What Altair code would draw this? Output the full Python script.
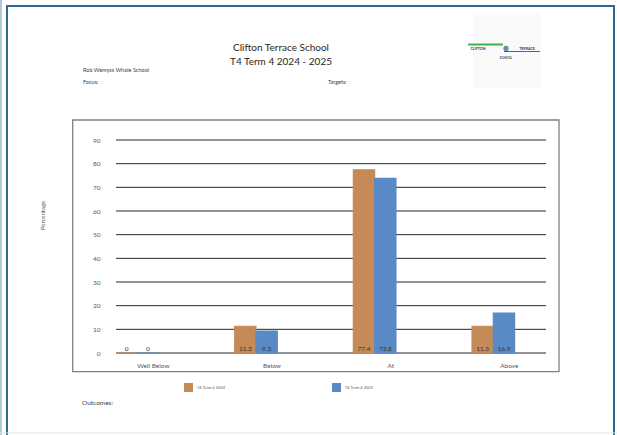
import altair as alt
import pandas as pd

categories = ["Well Below", "Below", "At", "Above"]
series = ["T4 Term 4 2024", "T4 Term 4 2025"]
values_2024 = [0, 11.3, 77.4, 11.3]
values_2025 = [0, 9.3, 73.8, 16.9]
colors = ["#c68a58", "#5a8ac6"]
y_ticks = [0, 10, 20, 30, 40, 50, 60, 70, 80, 90]

rows = []
for c, a, b in zip(categories, values_2024, values_2025):
    rows.append({"category": c, "series": series[0], "value": a})
    rows.append({"category": c, "series": series[1], "value": b})
df = pd.DataFrame(rows)
grid_df = pd.DataFrame({"tick": y_ticks})

W, H = 430, 213
FONT = "Lato"
GREY = "#595959"

y_scale = alt.Scale(domain=[0, 90], nice=False)
y_axis = alt.Axis(title="Percentage", values=y_ticks, ticks=False, domain=False,
                  labelFontSize=6.5, labelColor=GREY, labelPadding=16,
                  labelOverlap=False, grid=False,
                  titleFontSize=6, titleFontWeight="normal", titleColor=GREY,
                  titleX=-74, titleY=75, titleAngle=270,
                  titleAlign="center", titleBaseline="middle")

x_enc = alt.X("category:N", sort=categories,
              scale=alt.Scale(range=[0, 474.7], paddingInner=0, paddingOuter=0),
              axis=alt.Axis(title=None, ticks=False, domain=False, labelAngle=0,
                            labelFontSize=6.5, labelColor=GREY, labelPadding=9,
                            labelOffset=-22, grid=False))
xo_enc = alt.XOffset("series:N", sort=series,
                     scale=alt.Scale(range=[0, 42.6], paddingInner=0, paddingOuter=0))
color_enc = alt.Color("series:N", sort=series,
                      scale=alt.Scale(domain=series, range=colors),
                      legend=alt.Legend(title=None, orient="none", legendX=68, legendY=243,
                                        direction="horizontal", symbolType="square",
                                        symbolSize=81, symbolStrokeWidth=0,
                                        labelFontSize=4, labelColor=GREY,
                                        columnPadding=106, padding=0, labelOffset=4))

gridlines = alt.Chart(grid_df).mark_rule(color="#262626", strokeWidth=1).encode(
    y=alt.Y("tick:Q", scale=y_scale, axis=y_axis),
    x=alt.value(0), x2=alt.value(W),
)

bars = alt.Chart(df).mark_bar(strokeWidth=1.2).encode(
    x=x_enc,
    xOffset=xo_enc,
    y=alt.Y("value:Q", scale=y_scale, axis=y_axis),
    color=color_enc,
    stroke=alt.Stroke("series:N", sort=series,
                      scale=alt.Scale(domain=series, range=colors), legend=None),
)

labels = alt.Chart(df).mark_text(fontSize=6.5, color="#333333", baseline="middle",
                                 align="center", font=FONT).encode(
    x=alt.X("category:N", sort=categories),
    xOffset=alt.XOffset("series:N", sort=series),
    y=alt.value(H - 4.5),
    text=alt.Text("value:Q", format=".1~f"),
)

one = pd.DataFrame({"a": [0]})


def txt(s, x, y, size, align="left", color="#404040", weight="normal"):
    return alt.Chart(one).mark_text(text=s, fontSize=size, align=align, baseline="middle",
                                    color=color, font=FONT, fontWeight=weight).encode(
        x=alt.value(x), y=alt.value(y))


def box(x1, y1, x2, y2, stroke=None, sw=1, fill=None):
    kw = {}
    if stroke is not None:
        kw["stroke"] = stroke
        kw["strokeWidth"] = sw
    if fill is not None:
        kw["fill"] = fill
    else:
        kw["fillOpacity"] = 0
    return alt.Chart(one).mark_rect(**kw).encode(
        x=alt.value(x1), x2=alt.value(x2), y=alt.value(y1), y2=alt.value(y2))


def rule(x1, y1, x2, y2, color, sw):
    return alt.Chart(one).mark_rule(color=color, strokeWidth=sw).encode(
        x=alt.value(x1), x2=alt.value(x2), y=alt.value(y1), y2=alt.value(y2))


outer = box(-109, -134, 498, 305, stroke="#2b6b92", sw=2)
left_line = rule(-115, -140, -115, 295, "#7ea3bf", 1.2)
bottom_line = rule(-116, 293, 501, 293, "#dce8f0", 1)
inner = box(-43.3, -20, 443, 231.7, stroke="#808080", sw=1.3)

logo_bg = box(357, -127, 425, -52, fill="#fafafa")
logo_green = rule(352, -95.5, 387, -95.5, "#3cb44a", 1.8)
logo_blue = rule(388, -88.5, 424, -88.5, "#2a6fa8", 1.2)
logo_circle = alt.Chart(one).mark_point(filled=True, size=28, color="#1f5f8a").encode(
    x=alt.value(390), y=alt.value(-91.5))

texts = [
    txt("Clifton Terrace School", 165, -92.5, 10, align="center", color="#262626"),
    txt("T4 Term 4 2024 - 2025", 165, -78.5, 10, align="center", color="#262626"),
    txt("Rob Wemyss Whole School", -33, -70, 5.5),
    txt("Focus:", -33, -58, 5.5),
    txt("Targets:", 212, -58, 5.5),
    txt("Outcomes:", -34, 263, 6.5),
    txt("CLIFTON", 362, -91.5, 3.6, align="center", color="#1f3b5a", weight="bold"),
    txt("TERRACE", 411, -91.5, 3.6, align="center", color="#1f3b5a", weight="bold"),
    txt("SCHOOL", 390, -82.5, 3, align="center", color="#1f3b5a", weight="bold"),
]

chart = alt.layer(
    outer, left_line, bottom_line, inner, logo_bg, logo_green, logo_blue, logo_circle,
    gridlines, bars, labels, *texts
).properties(
    width=W, height=H,
    autosize=alt.AutoSizeParams(type="none"),
    padding={"left": 116, "top": 140, "right": 71, "bottom": 82},
).configure(font=FONT, background="white").configure_view(stroke=None)

chart.save("out.html", embed_options={"renderer": "svg", "actions": False})
